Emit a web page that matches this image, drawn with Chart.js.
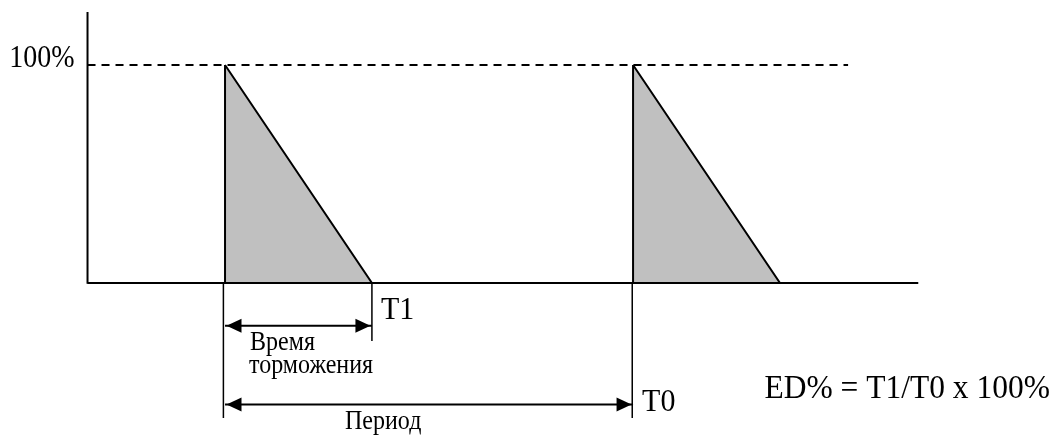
<!DOCTYPE html>
<html>
<head>
<meta charset="utf-8">
<script src="https://cdn.jsdelivr.net/npm/chart.js@4/dist/chart.umd.min.js"></script>
<style>
  html, body { margin: 0; padding: 0; background: #fff; }
  #wrap { width: 1057px; height: 436px; }
</style>
</head>
<body>
<div id="wrap"><canvas id="c" width="1057" height="436"></canvas></div>
<script>
// ---- data (time units: period T0 = 10) ----
const brakeStarts = [3.37, 13.37];   // start of each braking pulse
const brakeEnds   = [6.97, 16.97];   // end of each braking pulse (T1 after start)
const peakLevel   = 100;             // 100 %
const axisXEnd    = 20.36;
const axisYTop    = 124.3;
const refLineEnd  = 18.64;
const guideBottom = -62;             // vertical guide lines below the axis
const t1GuideBottom = -26.6;
const brakeArrowY = -19.6;
const periodArrowY = -55.7;
const labels = {
  level: '100%',
  t1: 'T1',
  t0: 'T0',
  brake1: 'Время',
  brake2: 'торможения',
  period: 'Период',
  formula: 'ED% = T1/T0 x 100%'
};

const serif = "'Liberation Serif', 'Times New Roman', serif";
const black = '#000';

function seg(x1, y1, x2, y2) { return [{x: x1, y: y1}, {x: x2, y: y2}]; }
function lineDs(data, width, dash) {
  return { type: 'line', data, borderColor: black, borderWidth: width, borderDash: dash || [],
           pointRadius: 0, fill: false, tension: 0, showLine: true };
}

const datasets = [];
// triangles
brakeStarts.forEach((s, i) => {
  datasets.push({
    type: 'line',
    data: [{x: s, y: peakLevel}, {x: s, y: 0}, {x: brakeEnds[i], y: 0}, {x: s, y: peakLevel}],
    borderColor: black, borderWidth: 2, backgroundColor: '#c0c0c0', fill: 'shape',
    pointRadius: 0, tension: 0, showLine: true
  });
});
// reference dashed line at 100 %
datasets.push(lineDs(seg(0, peakLevel, refLineEnd, peakLevel), 2, [8, 6]));
// axes
datasets.push(lineDs(seg(0, 0, axisXEnd, 0), 2));
datasets.push(lineDs(seg(0, -0.4, 0, axisYTop), 2));
// guide verticals
datasets.push(lineDs(seg(brakeStarts[0] - 0.04, 0, brakeStarts[0] - 0.04, guideBottom), 1.5));
datasets.push(lineDs(seg(brakeEnds[0], 0, brakeEnds[0], t1GuideBottom), 1.5));
datasets.push(lineDs(seg(brakeStarts[1] - 0.02, 0, brakeStarts[1] - 0.02, guideBottom), 1.5));
// arrow shafts
datasets.push(lineDs(seg(brakeStarts[0], brakeArrowY, brakeEnds[0], brakeArrowY), 2));
datasets.push(lineDs(seg(brakeStarts[0], periodArrowY, brakeStarts[1], periodArrowY), 2));

const arrowHeads = [
  {x: brakeStarts[0], y: brakeArrowY, dir: -1},
  {x: brakeEnds[0],   y: brakeArrowY, dir: 1},
  {x: brakeStarts[0], y: periodArrowY, dir: -1},
  {x: brakeStarts[1], y: periodArrowY, dir: 1}
];

function tallText(ctx, text, x, y, sy) {
  ctx.save();
  ctx.translate(x, y);
  ctx.scale(1, sy);
  ctx.fillText(text, 0, 0);
  ctx.restore();
}

const annot = {
  id: 'annot',
  afterDatasetsDraw(chart) {
    const ctx = chart.ctx, xs = chart.scales.x, ys = chart.scales.y;
    ctx.save();
    // arrow heads
    ctx.fillStyle = black;
    arrowHeads.forEach(a => {
      const px = xs.getPixelForValue(a.x) + (a.dir < 0 ? 1.5 : -1.5), py = ys.getPixelForValue(a.y);
      ctx.beginPath();
      ctx.moveTo(px, py);
      ctx.lineTo(px - a.dir * 15, py - 7);
      ctx.lineTo(px - a.dir * 15, py + 7);
      ctx.closePath();
      ctx.fill();
    });
    // texts
    ctx.fillStyle = black;
    ctx.textBaseline = 'alphabetic';
    ctx.textAlign = 'right';
    ctx.font = '28px ' + serif;
    tallText(ctx, labels.level, xs.getPixelForValue(0) - 13, ys.getPixelForValue(peakLevel) + 2, 1.1);
    ctx.textAlign = 'left';
    ctx.font = '30px ' + serif;
    tallText(ctx, labels.t1, xs.getPixelForValue(brakeEnds[0]) + 9, ys.getPixelForValue(0) + 36, 1.08);
    tallText(ctx, labels.t0, xs.getPixelForValue(brakeStarts[1]) + 9, ys.getPixelForValue(periodArrowY) + 7, 1.08);
    ctx.font = '24px ' + serif;
    const bx = xs.getPixelForValue(brakeStarts[0]);
    tallText(ctx, labels.brake1, bx + 25, ys.getPixelForValue(brakeArrowY) + 24, 1.1);
    tallText(ctx, labels.brake2, bx + 24, ys.getPixelForValue(brakeArrowY) + 47, 1.1);
    tallText(ctx, labels.period, bx + 120, ys.getPixelForValue(periodArrowY) + 25, 1.1);
    ctx.font = '31.5px ' + serif;
    tallText(ctx, labels.formula, xs.getPixelForValue(16.59), ys.getPixelForValue(periodArrowY) - 6, 1.08);
    ctx.restore();
  }
};

new Chart(document.getElementById('c'), {
  type: 'scatter',
  data: { datasets },
  options: {
    responsive: false,
    animation: false,
    events: [],
    layout: { padding: 0 },
    plugins: { legend: { display: false }, tooltip: { enabled: false }, title: { display: false } },
    scales: {
      x: { type: 'linear', display: false, min: -2.145, max: 23.76 },
      y: { type: 'linear', display: false, min: -70.2, max: 129.8 }
    }
  },
  plugins: [annot]
});
</script>
</body>
</html>
